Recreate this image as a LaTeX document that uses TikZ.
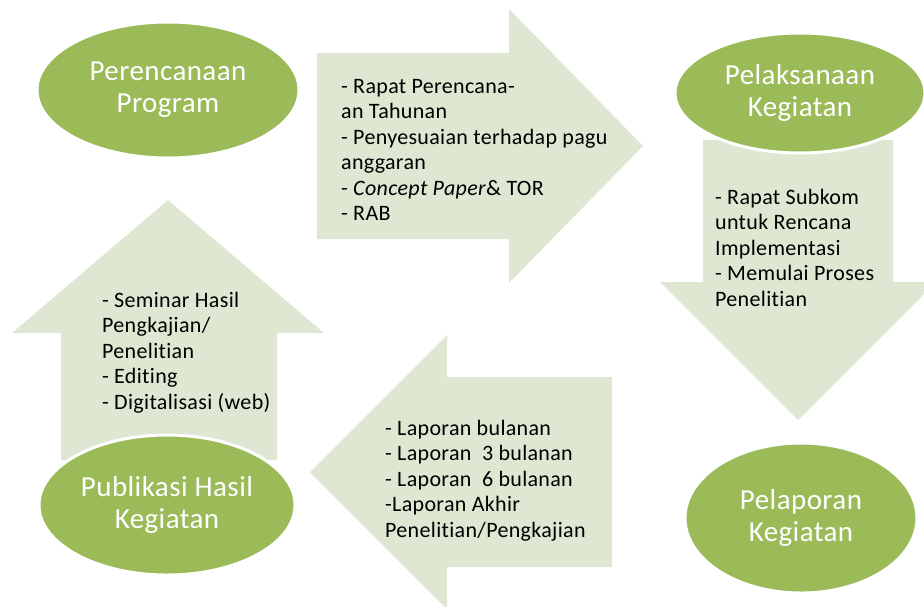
\documentclass[tikz,border=0pt]{standalone}
\usepackage{fontspec}
\setmainfont[LetterSpace=1.5,Ligatures=NoCommon]{Carlito}
\usetikzlibrary{shapes.geometric}
\definecolor{leaf}{RGB}{155,187,89}
\definecolor{pale}{RGB}{222,231,209}

\begin{document}
\begin{tikzpicture}[x=1pt,y=-1pt,
  flow/.style={fill=pale, draw=none},
  stage/.style={ellipse, fill=leaf, draw=white, line width=3pt, text=white,
    font=\fontsize{29}{32}\selectfont, align=center, inner sep=0pt},
  note/.style={anchor=north west, align=left, inner sep=0pt, text=black,
    font=\fontsize{22}{25.5}\selectfont}]
\useasboundingbox (0,0) rectangle (924,606);

% block arrows of the cycle
\fill[flow] (317,53) -- (509,53) -- (509,9) -- (643,146) -- (509,283) -- (509,239) -- (317,239) -- cycle;
\fill[flow] (703,140) -- (893,140) -- (893,282) -- (936,282) -- (798,420) -- (660,282) -- (703,282) -- cycle;
\fill[flow] (612,377) -- (447,377) -- (447,335) -- (310,472) -- (447,609) -- (447,567) -- (612,567) -- cycle;
\fill[flow] (61,460) -- (61,333) -- (12,333) -- (168,200) -- (324,333) -- (277,333) -- (277,460) -- cycle;

% activities carried by each arrow
\node[note] (tplan) at (341,79) {- Rapat Perencana-\\an Tahunan\\- Penyesuaian terhadap pagu\\anggaran\\- \textit{Concept Paper}\& TOR\\- RAB};
\node[note] (texec) at (715,189) {- Rapat Subkom\\untuk Rencana\\Implementasi\\- Memulai Proses\\Penelitian};
\node[note] (treport) at (385,420) {- Laporan bulanan\\- Laporan\ \ 3 bulanan\\- Laporan\ \ 6 bulanan\\-Laporan Akhir\\Penelitian/Pengkajian};
\node[note] (tpub) at (102,292) {- Seminar Hasil\\Pengkajian/\\Penelitian\\- Editing\\- Digitalisasi (web)};

% stages
\node[stage, minimum width=262pt, minimum height=136pt] (plan) at (168,90) {Perencanaan\\Program};
\node[stage, minimum width=250pt, minimum height=120pt] (exec) at (800,93) {Pelaksanaan\\Kegiatan};
\node[stage, minimum width=232pt, minimum height=150pt] (report) at (801,518) {Pelaporan\\Kegiatan};
\node[stage, minimum width=256pt, minimum height=140pt] (pub) at (167,505) {Publikasi Hasil\\Kegiatan};
\end{tikzpicture}
\end{document}
